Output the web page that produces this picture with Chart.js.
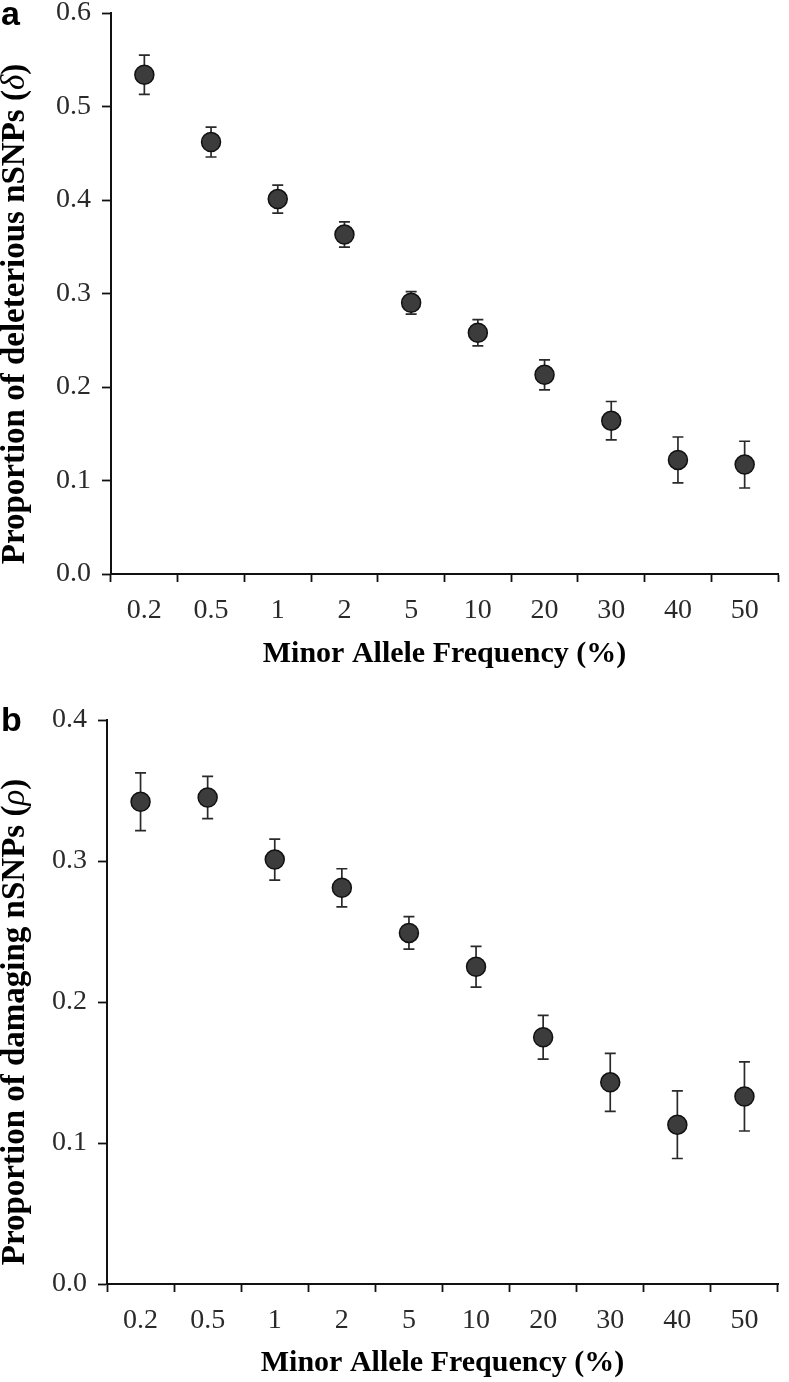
<!DOCTYPE html>
<html>
<head>
<meta charset="utf-8">
<script src="https://cdn.jsdelivr.net/npm/chart.js@4.4.1/dist/chart.umd.min.js"></script>
<style>
  body { margin: 0; background: #fff; }
  canvas { display: block; }
</style>
</head>
<body>
<canvas id="chart_a" width="789" height="680"></canvas>
<canvas id="chart_b" width="789" height="702"></canvas>
<script>
"use strict";

// minor allele frequency bins (%)
const mafLabels = ['0.2', '0.5', '1', '2', '5', '10', '20', '30', '40', '50'];

// panel a: proportion of deleterious nSNPs (delta)
const deleteriousValues = [0.534, 0.462, 0.401, 0.363, 0.290, 0.258, 0.213, 0.164, 0.122, 0.117];
const deleteriousErrors = [0.021, 0.016, 0.015, 0.0135, 0.012, 0.014, 0.016, 0.0205, 0.0245, 0.025];

// panel b: proportion of damaging nSNPs (rho)
const damagingValues = [0.342, 0.345, 0.301, 0.281, 0.249, 0.225, 0.175, 0.143, 0.113, 0.133];
const damagingErrors = [0.0205, 0.015, 0.0145, 0.0135, 0.0115, 0.0145, 0.0155, 0.0205, 0.024, 0.0245];

const SERIF = "'Liberation Serif', 'Times New Roman', serif";

// error bars go under the points, drawn through the chart's own scales
const errorBars = {
  id: 'errorBars',
  beforeDatasetsDraw(chart, args, opts) {
    const ctx = chart.ctx;
    const y = chart.scales.y;
    const meta = chart.getDatasetMeta(0);
    const values = chart.data.datasets[0].data;
    ctx.save();
    ctx.strokeStyle = '#2a2a2a';
    ctx.lineWidth = 1.7;
    meta.data.forEach(function(pt, i) {
      const yHi = y.getPixelForValue(values[i] + opts.errors[i]);
      const yLo = y.getPixelForValue(values[i] - opts.errors[i]);
      ctx.beginPath();
      ctx.moveTo(pt.x, yHi);
      ctx.lineTo(pt.x, yLo);
      ctx.moveTo(pt.x - 5.5, yHi);
      ctx.lineTo(pt.x + 5.5, yHi);
      ctx.moveTo(pt.x - 5.5, yLo);
      ctx.lineTo(pt.x + 5.5, yLo);
      ctx.stroke();
    });
    ctx.restore();
  }
};

// rotated y title (bold with an italic greek letter) and the panel letter
const panelText = {
  id: 'panelText',
  afterDraw(chart, args, opts) {
    const ctx = chart.ctx;
    ctx.save();
    ctx.fillStyle = '#000';
    ctx.font = "bold 34px 'Liberation Sans', Arial, sans-serif";
    ctx.textBaseline = 'alphabetic';
    ctx.textAlign = 'left';
    ctx.fillText(opts.letter, 1, opts.letterY);

    ctx.translate(opts.titleX, opts.titleY);
    ctx.rotate(-Math.PI / 2);
    const parts = [
      { text: opts.title + ' (', font: 'bold ' + opts.titleSize + 'px ' + SERIF },
      { text: opts.greek, font: 'italic ' + opts.titleSize + 'px ' + SERIF },
      { text: ')', font: 'bold ' + opts.titleSize + 'px ' + SERIF }
    ];
    let total = 0;
    parts.forEach(function(p) {
      ctx.font = p.font;
      p.w = ctx.measureText(p.text).width;
      total += p.w;
    });
    let x = -total / 2;
    ctx.textBaseline = 'middle';
    parts.forEach(function(p) {
      ctx.font = p.font;
      ctx.fillText(p.text, x, 0);
      x += p.w;
    });
    ctx.restore();
  }
};

function makeChart(canvasId, values, errors, yMax, frame, text) {
  return new Chart(document.getElementById(canvasId), {
    type: 'line',
    data: {
      labels: mafLabels,
      datasets: [{
        data: values,
        showLine: false,
        pointRadius: 9.5,
        pointHoverRadius: 9.5,
        pointBackgroundColor: '#3c3c3c',
        pointBorderColor: '#111',
        pointBorderWidth: 1.5
      }]
    },
    options: {
      responsive: false,
      animation: false,
      events: [],
      layout: {
        padding: { top: frame.top, right: frame.right, left: 0, bottom: 0 }
      },
      plugins: {
        legend: { display: false },
        tooltip: { enabled: false },
        errorBars: { errors: errors },
        panelText: text
      },
      scales: {
        x: {
          type: 'category',
          offset: true,
          grid: {
            offset: true,
            drawOnChartArea: false,
            drawTicks: true,
            tickLength: 8,
            tickWidth: 1.8,
            tickColor: '#111'
          },
          border: { display: true, color: '#111', width: 2 },
          ticks: {
            color: '#2a2a2a',
            padding: 12,
            font: { family: SERIF, size: 28 },
            maxRotation: 0
          },
          title: {
            display: true,
            text: 'Minor Allele Frequency (%)',
            color: '#000',
            font: { family: SERIF, size: 30, weight: 'bold' },
            padding: { top: 0, bottom: frame.xTitlePad }
          },
          afterFit: function(scale) {
            scale.height = frame.xHeight;
            scale.paddingLeft = 0;
            scale.paddingRight = 0;
          }
        },
        y: {
          min: 0,
          max: yMax,
          grid: {
            drawOnChartArea: false,
            drawTicks: true,
            tickLength: 9,
            tickWidth: 1.8,
            tickColor: '#111'
          },
          border: { display: true, color: '#111', width: 2 },
          ticks: {
            stepSize: 0.1,
            color: '#2a2a2a',
            padding: 11,
            font: { family: SERIF, size: 28 },
            callback: function(v) { return Number(v).toFixed(1); }
          },
          afterFit: function(scale) {
            scale.width = frame.yWidth;
            scale.paddingTop = 0;
            scale.paddingBottom = 0;
          }
        }
      }
    },
    plugins: [errorBars, panelText]
  });
}

makeChart('chart_a', deleteriousValues, deleteriousErrors, 0.6,
  { top: 13, right: 3, yWidth: 111, xHeight: 106, xTitlePad: 8 },
  { letter: 'a', letterY: 25, title: 'Proportion of deleterious nSNPs', greek: 'δ',
    titleSize: 33, titleX: 15, titleY: 314 });

makeChart('chart_b', damagingValues, damagingErrors, 0.4,
  { top: 40, right: 5, yWidth: 107, xHeight: 98, xTitlePad: 1 },
  { letter: 'b', letterY: 51, title: 'Proportion of damaging nSNPs', greek: 'ρ',
    titleSize: 33, titleX: 15, titleY: 342 });
</script>
</body>
</html>
